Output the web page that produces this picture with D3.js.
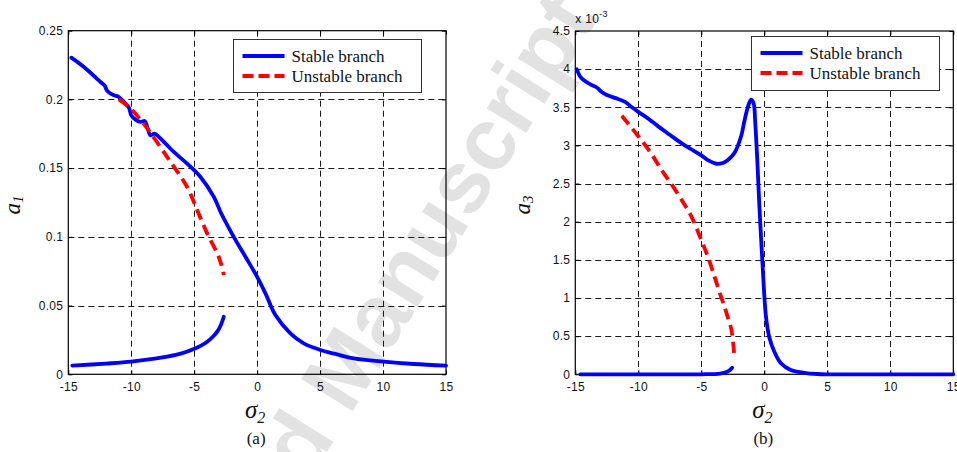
<!DOCTYPE html>
<html>
<head>
<meta charset="utf-8">
<script src="https://cdn.jsdelivr.net/npm/d3@7"></script>
<style>
  html, body { margin: 0; padding: 0; background: #fff; }
  svg { display: block; }
  .tick text { font-family: "Liberation Sans", Arial, sans-serif; font-size: 12px; letter-spacing: 0.3px; fill: #111; }
</style>
</head>
<body>
<svg id="fig" width="957" height="452"></svg>
<script>
// ---- Panel (a): amplitude a1 versus detuning sigma2 ----
const a1StableUpper = [
  [-14.76, 0.2304], [-13.76, 0.2236], [-12.44, 0.2127], [-12.12, 0.2102], [-11.9, 0.2061],
  [-11.38, 0.2030], [-11.06, 0.2022], [-10.71, 0.1993], [-10.19, 0.1940], [-10.0, 0.1884],
  [-9.66, 0.1853], [-9.26, 0.1836], [-8.94, 0.1843], [-8.73, 0.1800], [-8.47, 0.1739],
  [-8.15, 0.1751], [-7.67, 0.1715], [-6.62, 0.1618], [-5.56, 0.1533], [-4.5, 0.1436],
  [-3.44, 0.1291], [-2.85, 0.1170], [-1.86, 0.1000], [-0.93, 0.0855], [0.0, 0.0709],
  [0.66, 0.0589], [1.45, 0.0431], [2.64, 0.0298], [3.7, 0.0225], [5.02, 0.0177],
  [6.35, 0.0145], [7.67, 0.0116], [10.05, 0.0092], [12.43, 0.0075], [15.0, 0.0063]
];
const a1StableLower = [
  [-14.68, 0.0063], [-12.0, 0.0078], [-10.0, 0.0092], [-8.0, 0.0115], [-7.14, 0.0128],
  [-6.0, 0.0152], [-5.03, 0.0184], [-4.5, 0.0207], [-3.97, 0.0237], [-3.5, 0.0275],
  [-3.17, 0.0310], [-2.9, 0.0355], [-2.65, 0.0419]
];
const a1Unstable = [
  [-10.98, 0.2000], [-10.06, 0.1935], [-9.2, 0.1845], [-8.73, 0.1790], [-7.14, 0.1580],
  [-5.56, 0.1363], [-4.76, 0.1194], [-3.97, 0.1025], [-3.17, 0.0880], [-2.85, 0.0800],
  [-2.65, 0.0722]
];

// ---- Panel (b): amplitude a3 (x 10^-3) versus detuning sigma2 ----
const a3StableUpper = [
  [-14.89, 4.00], [-14.6, 3.90], [-14.37, 3.86], [-13.8, 3.80], [-13.3, 3.76],
  [-12.9, 3.70], [-12.5, 3.66], [-11.8, 3.62], [-11.05, 3.57], [-10.5, 3.50],
  [-10.0, 3.44], [-9.2, 3.35], [-8.42, 3.25], [-7.5, 3.14], [-6.58, 3.03],
  [-5.8, 2.95], [-5.0, 2.87], [-4.4, 2.80], [-3.8, 2.76], [-3.3, 2.77],
  [-2.89, 2.81], [-2.37, 2.90], [-1.84, 3.12], [-1.58, 3.32], [-1.31, 3.50],
  [-1.05, 3.60], [-0.85, 3.55], [-0.72, 3.30], [-0.52, 2.68], [-0.39, 2.20],
  [-0.26, 1.80], [-0.13, 1.41], [0.13, 0.76], [0.39, 0.49], [0.79, 0.30],
  [1.32, 0.144], [2.1, 0.056], [3.16, 0.020], [4.2, 0.004], [5.0, 0.0],
  [10.0, 0.0], [15.0, 0.0]
];
const a3StableLower = [
  [-14.6, 0.0], [-10.0, 0.0], [-5.0, 0.0], [-3.5, 0.01], [-3.0, 0.03],
  [-2.7, 0.06], [-2.55, 0.085]
];
const a3Unstable = [
  [-11.31, 3.39], [-10.0, 3.12], [-9.0, 2.90], [-8.16, 2.68], [-7.4, 2.50],
  [-6.58, 2.29], [-5.79, 2.07], [-5.0, 1.76], [-4.5, 1.55], [-3.95, 1.28],
  [-3.5, 1.05], [-3.16, 0.887], [-2.85, 0.72], [-2.63, 0.60], [-2.48, 0.42],
  [-2.37, 0.23]
];

// ---- Tick values and labels ----
const sigmaTicks = [-15, -10, -5, 0, 5, 10, 15];
const sigmaTickLabels = ["-15", "-10", "-5", "0", "5", "10", "15"];
const a1Ticks = [0, 0.05, 0.1, 0.15, 0.2, 0.25];
const a1TickLabels = ["0", "0.05", "0.1", "0.15", "0.2", "0.25"];
const a3Ticks = [0, 0.5, 1, 1.5, 2, 2.5, 3, 3.5, 4, 4.5];
const a3TickLabels = ["0", "0.5", "1", "1.5", "2", "2.5", "3", "3.5", "4", "4.5"];
const legendLabels = ["Stable branch", "Unstable branch"];

const svg = d3.select("#fig");

// Background watermark
const wm = svg.append("g").attr("transform", "translate(448,200) rotate(-58)");
wm.append("text")
  .attr("x", 234)
  .attr("dy", "0.35em")
  .attr("text-anchor", "end")
  .attr("font-family", "Liberation Sans, Arial, sans-serif")
  .attr("font-weight", "bold")
  .attr("font-size", 88)
  .attr("fill", "#e2e2e2")
  .text("Accepted Manuscript");

const SERIF = "Liberation Serif, Times New Roman, serif";

function drawPanel(opt) {
  const x = d3.scaleLinear().domain([-15, 15]).range([opt.x0, opt.x1]);
  const y = d3.scaleLinear().domain(opt.yDomain).range([opt.y0, opt.y1]);
  const g = svg.append("g");

  // dashed grid
  const grid = g.append("g").attr("stroke", "#1a1a1a").attr("stroke-width", 1)
    .attr("stroke-dasharray", "6,4").attr("fill", "none");
  sigmaTicks.slice(1, -1).forEach(v => {
    grid.append("line").attr("x1", Math.round(x(v)) + 0.5).attr("x2", Math.round(x(v)) + 0.5)
      .attr("y1", opt.y1).attr("y2", opt.y0);
  });
  opt.yTicks.slice(1, -1).forEach(v => {
    grid.append("line").attr("y1", Math.round(y(v)) + 0.5).attr("y2", Math.round(y(v)) + 0.5)
      .attr("x1", opt.x0).attr("x2", opt.x1);
  });

  // axes with inward ticks
  const fmtX = d => sigmaTickLabels[sigmaTicks.indexOf(d)];
  const fmtY = d => opt.yLabels[opt.yTicks.indexOf(d)];
  const bottom = g.append("g").attr("transform", `translate(0,${opt.y0})`)
    .call(d3.axisBottom(x).tickValues(sigmaTicks).tickFormat(fmtX).tickSizeInner(-4).tickSizeOuter(0).tickPadding(8));
  const left = g.append("g").attr("transform", `translate(${opt.x0},0)`)
    .call(d3.axisLeft(y).tickValues(opt.yTicks).tickFormat(fmtY).tickSizeInner(-4).tickSizeOuter(0).tickPadding(5));
  const top = g.append("g").attr("transform", `translate(0,${opt.y1})`)
    .call(d3.axisTop(x).tickValues(sigmaTicks).tickFormat("").tickSizeInner(-4).tickSizeOuter(0));
  const right = g.append("g").attr("transform", `translate(${opt.x1},0)`)
    .call(d3.axisRight(y).tickValues(opt.yTicks).tickFormat("").tickSizeInner(-4).tickSizeOuter(0));
  [bottom, left, top, right].forEach(a => {
    a.select(".domain").remove();
    a.selectAll(".tick line").attr("stroke", "#000");
  });
  g.append("rect").attr("x", opt.x0).attr("y", opt.y1)
    .attr("width", opt.x1 - opt.x0).attr("height", opt.y0 - opt.y1)
    .attr("fill", "none").attr("stroke", "#000").attr("stroke-width", 1.2);

  // curves
  const line = d3.line().x(d => x(d[0])).y(d => y(d[1])).curve(d3.curveCatmullRom.alpha(0.5));
  const curves = g.append("g").attr("fill", "none").attr("stroke-linejoin", "round");
  opt.stable.forEach(s => {
    curves.append("path").datum(s).attr("d", line)
      .attr("stroke", "#0000ff").attr("stroke-width", 3.8).attr("stroke-linecap", "round");
  });
  curves.append("path").datum(opt.unstable).attr("d", line)
    .attr("stroke", "#ff0000").attr("stroke-width", 3.8).attr("stroke-dasharray", "11,6");

  // legend
  const L = opt.legend;
  const lg = g.append("g");
  lg.append("rect").attr("x", L.x).attr("y", L.y).attr("width", L.w).attr("height", L.h)
    .attr("fill", "#fff").attr("stroke", "#333").attr("stroke-width", 1);
  const rows = [
    { color: "#0000ff", dash: null },
    { color: "#ff0000", dash: "11,5" }
  ];
  rows.forEach((r, i) => {
    const ly = L.y + 16.5 + i * 20;
    lg.append("line").attr("x1", L.x + 9).attr("x2", L.x + 51).attr("y1", ly).attr("y2", ly)
      .attr("stroke", r.color).attr("stroke-width", 4).attr("stroke-dasharray", r.dash);
    lg.append("text").attr("x", L.x + 58).attr("y", ly + 6)
      .attr("font-family", SERIF).attr("font-size", 17).attr("fill", "#111")
      .text(legendLabels[i]);
  });

  // axis titles
  const cx = (opt.x0 + opt.x1) / 2;
  const xl = g.append("text").attr("x", cx - 2).attr("y", 418).attr("text-anchor", "middle")
    .attr("font-family", SERIF).attr("font-style", "italic").attr("font-size", 25).attr("fill", "#111");
  xl.append("tspan").text("σ");
  xl.append("tspan").attr("font-size", 16).attr("dy", 5).text("2");
  g.append("text").attr("x", cx - 1).attr("y", 444).attr("text-anchor", "middle")
    .attr("font-family", SERIF).attr("font-size", 17).attr("fill", "#111").text(opt.caption);

  const yl = g.append("text").attr("transform", `translate(${opt.yLabelX},205) rotate(-90)`)
    .attr("text-anchor", "middle")
    .attr("font-family", SERIF).attr("font-style", "italic").attr("font-size", 23).attr("fill", "#111");
  yl.append("tspan").text("a");
  yl.append("tspan").attr("font-size", 15).attr("dy", 3).text(opt.ySub);

  if (opt.exponent) {
    const ex = g.append("text").attr("x", opt.x0).attr("y", 23)
      .attr("font-family", "Liberation Sans, Arial, sans-serif").attr("font-size", 12)
      .attr("letter-spacing", "0.3px").attr("fill", "#111");
    ex.append("tspan").text("x 10");
    ex.append("tspan").attr("font-size", 9).attr("dy", -6).text("-3");
  }
}

drawPanel({
  x0: 68.3, x1: 446, y0: 374.3, y1: 30.7,
  yDomain: [0, 0.25], yTicks: a1Ticks, yLabels: a1TickLabels,
  stable: [a1StableUpper, a1StableLower], unstable: a1Unstable,
  legend: { x: 233.5, y: 39.5, w: 188, h: 53 },
  caption: "(a)", ySub: "1", yLabelX: 20
});

drawPanel({
  x0: 575.3, x1: 953.3, y0: 374.3, y1: 31,
  yDomain: [0, 4.5], yTicks: a3Ticks, yLabels: a3TickLabels,
  stable: [a3StableUpper, a3StableLower], unstable: a3Unstable,
  legend: { x: 751.5, y: 36.5, w: 188, h: 54 },
  caption: "(b)", ySub: "3", yLabelX: 530, exponent: true
});
</script>
</body>
</html>
